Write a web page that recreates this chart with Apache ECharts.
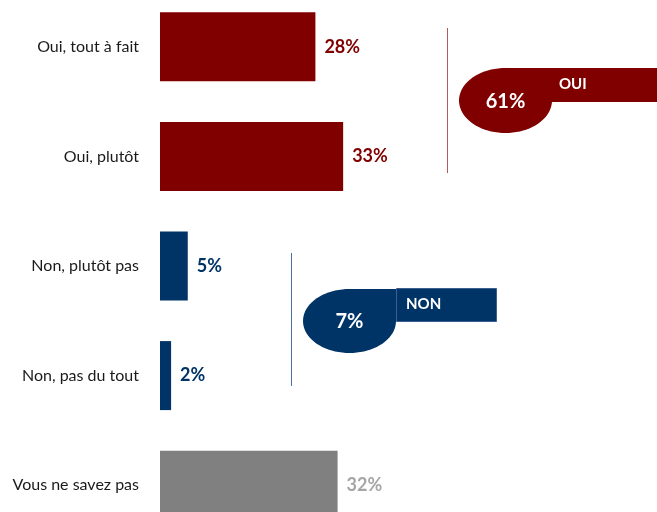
<!DOCTYPE html>
<html>
<head>
<meta charset="utf-8">
<script src="https://cdn.jsdelivr.net/npm/echarts@6/dist/echarts.min.js"></script>
<style>
  html, body { margin: 0; padding: 0; background: #ffffff; }
  #chart { width: 657px; height: 512px; }
</style>
</head>
<body>
<div id="chart"></div>
<script>
// Answer categories, top to bottom
const categories = ['Oui, tout à fait', 'Oui, plutôt', 'Non, plutôt pas', 'Non, pas du tout', 'Vous ne savez pas'];
// Share of respondents (%)
const values = [28, 33, 5, 2, 32];
// Group of each answer: 0 = OUI, 1 = NON, 2 = no answer
const groups = [0, 0, 1, 1, 2];
const groupNames = ['OUI', 'NON'];

const barColors = ['#800000', '#003366', '#808080'];
const labelColors = ['#800000', '#003366', '#a6a6a6'];
const font = 'Lato, "Open Sans", sans-serif';

// Totals shown in the callouts
const totalOui = values.filter((v, i) => groups[i] === 0).reduce((a, b) => a + b, 0);
const totalNon = values.filter((v, i) => groups[i] === 1).reduce((a, b) => a + b, 0);

// Teardrop outline: an ellipse whose top-right quarter is a square corner
function teardrop(cx, cy, rx, ry) {
  const pts = [[cx + rx, cy - ry]];
  const steps = 60;
  for (let s = 0; s <= steps; s++) {
    const a = (s / steps) * 1.5 * Math.PI; // from right, going down, round to top
    pts.push([cx + rx * Math.cos(a), cy + ry * Math.sin(a)]);
  }
  return pts;
}

function callout(opt) {
  return [
    { type: 'line', shape: { x1: opt.lineX, y1: opt.lineY1, x2: opt.lineX, y2: opt.lineY2 },
      style: { stroke: opt.lineColor, lineWidth: 1 } },
    { type: 'rect', shape: { x: opt.rectX, y: opt.rectY, width: opt.rectW, height: opt.rectH },
      style: { fill: opt.color, stroke: opt.rectStroke, lineWidth: 1 } },
    { type: 'polygon', shape: { points: teardrop(opt.cx, opt.cy, opt.rx, opt.ry) },
      style: { fill: opt.color } },
    { type: 'text', x: opt.cx, y: opt.cy + 1,
      style: { text: opt.total + '%', fill: '#ffffff', font: 'bold 20px ' + font,
               align: 'center', verticalAlign: 'middle' } },
    { type: 'text', x: opt.nameX, y: opt.rectY + opt.rectH / 2 - 1,
      style: { text: opt.name, fill: '#ffffff', font: 'bold 15px ' + font,
               align: 'left', verticalAlign: 'middle' } }
  ];
}

const chart = echarts.init(document.getElementById('chart'), null, { renderer: 'canvas' });

chart.setOption({
  animation: false,
  backgroundColor: '#ffffff',
  grid: { left: 160, top: -8, width: 555, height: 548, outerBoundsMode: 'none' },
  xAxis: {
    type: 'value', min: 0, max: 100, show: false
  },
  yAxis: {
    type: 'category',
    inverse: true,
    data: categories,
    axisLine: { show: false },
    axisTick: { show: false },
    axisLabel: { color: '#1a1a1a', fontFamily: font, fontSize: 16, margin: 21 }
  },
  series: [{
    type: 'bar',
    barWidth: 69,
    data: values.map((v, i) => ({
      value: v,
      itemStyle: { color: barColors[groups[i]] },
      label: { color: labelColors[groups[i]] }
    })),
    label: {
      show: true,
      position: 'right',
      distance: 9,
      formatter: '{c}%',
      fontFamily: font,
      fontWeight: 'bold',
      fontSize: 18
    }
  }],
  graphic: [].concat(
    callout({
      name: groupNames[0], total: totalOui, color: '#800000', lineColor: '#b05a5a',
      lineX: 447.5, lineY1: 28, lineY2: 173,
      cx: 505.5, cy: 100.5, rx: 46.5, ry: 32.5,
      rectX: 551, rectY: 68.5, rectW: 110, rectH: 33, rectStroke: '#800000',
      nameX: 559
    }),
    callout({
      name: groupNames[1], total: totalNon, color: '#003366', lineColor: '#4a6fa0',
      lineX: 291.5, lineY1: 253, lineY2: 386,
      cx: 349.5, cy: 321, rx: 46.5, ry: 32,
      rectX: 396.5, rectY: 288.5, rectW: 100, rectH: 33, rectStroke: '#3d5f8f',
      nameX: 406
    })
  )
});
</script>
</body>
</html>
